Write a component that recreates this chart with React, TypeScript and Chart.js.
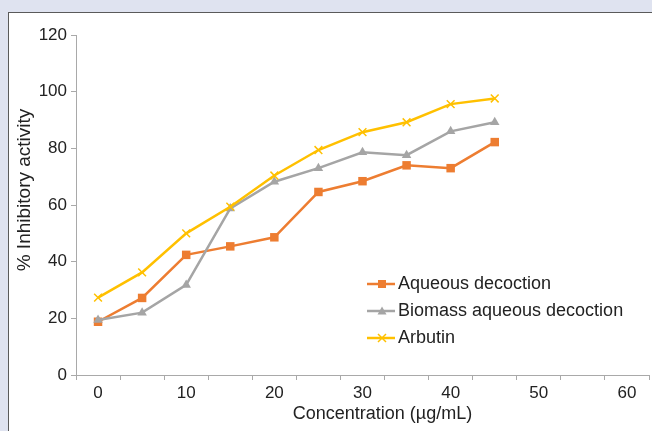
import React, { useEffect, useRef } from 'react';
import { Chart, registerables } from 'chart.js';

Chart.register(...registerables);

// ---- data ----
const categories = ['0', '5', '10', '15', '20', '25', '30', '35', '40', '45', '50', '55', '60'];
const aqueousDecoction = [18.8, 27.2, 42.4, 45.4, 48.6, 64.6, 68.4, 74.0, 73.0, 82.2];
const biomassAqueousDecoction = [19.4, 22.0, 31.8, 58.8, 68.2, 73.0, 78.6, 77.6, 86.0, 89.2];
const arbutin = [27.3, 36.2, 50.0, 59.4, 70.4, 79.4, 85.7, 89.2, 95.6, 97.6];
const seriesNames = ['Aqueous decoction', 'Biomass aqueous decoction', 'Arbutin'];
const seriesColors = ['#ED7D31', '#A5A5A5', '#FFC000'];
const seriesMarkers = ['rect', 'triangle', 'crossRot'];
const xTitle = 'Concentration (µg/mL)';
const yTitle = '% Inhibitory activity';
const yMin = 0;
const yMax = 120;
const yStep = 20;

const FONT = '"Liberation Sans", Arial, sans-serif';
const TEXT = '#222222';
const AXIS = '#A9A9A9';

function makeLegendIcon(color: string, marker: string): HTMLCanvasElement {
  const c = document.createElement('canvas');
  c.width = 32;
  c.height = 12;
  const ctx = c.getContext('2d')!;
  ctx.strokeStyle = color;
  ctx.fillStyle = color;
  ctx.lineWidth = 2.5;
  ctx.beginPath();
  ctx.moveTo(2, 6);
  ctx.lineTo(30, 6);
  ctx.stroke();
  const cx = 17;
  const cy = 6;
  if (marker === 'rect') {
    ctx.fillRect(cx - 4, cy - 4, 8, 8);
  } else if (marker === 'triangle') {
    ctx.beginPath();
    ctx.moveTo(cx, cy - 4.5);
    ctx.lineTo(cx + 4.5, cy + 3.5);
    ctx.lineTo(cx - 4.5, cy + 3.5);
    ctx.closePath();
    ctx.fill();
  } else {
    ctx.lineWidth = 1.5;
    ctx.beginPath();
    ctx.moveTo(cx - 4, cy - 4);
    ctx.lineTo(cx + 4, cy + 4);
    ctx.moveTo(cx + 4, cy - 4);
    ctx.lineTo(cx - 4, cy + 4);
    ctx.stroke();
  }
  return c;
}

export default function App() {
  const ref = useRef<HTMLCanvasElement | null>(null);

  useEffect(() => {
    const canvas = ref.current;
    if (!canvas) return;
    const icons = seriesColors.map((c, i) => makeLegendIcon(c, seriesMarkers[i]));
    const seriesData = [aqueousDecoction, biomassAqueousDecoction, arbutin];

    const placeLegend = {
      id: 'placeLegend',
      afterLayout(chart: any) {
        const lg = chart.legend;
        if (!lg) return;
        lg.left = 364;
        lg.top = 266;
        lg.right = 640;
        lg.bottom = 400;
        lg.width = 276;
        lg.height = 134;
      },
    };

    const titles = {
      id: 'axisTitles',
      afterDraw(chart: any) {
        const { ctx, chartArea } = chart;
        ctx.save();
        ctx.fillStyle = TEXT;
        ctx.textAlign = 'center';
        ctx.textBaseline = 'middle';
        ctx.font = `18px ${FONT}`;
        ctx.fillText(xTitle, (chartArea.left + chartArea.right) / 2 + 20, chartArea.bottom + 39);
        ctx.font = `19px ${FONT}`;
        ctx.translate(25, (chartArea.top + chartArea.bottom) / 2 - 15);
        ctx.rotate(-Math.PI / 2);
        ctx.fillText(yTitle, 0, 0);
        ctx.restore();
      },
    };

    const chart = new Chart(canvas, {
      type: 'line',
      data: {
        labels: categories,
        datasets: seriesData.map((d, i) => ({
          label: seriesNames[i],
          data: d,
          borderColor: seriesColors[i],
          backgroundColor: seriesColors[i],
          borderWidth: 2.5,
          tension: 0,
          fill: false,
          pointStyle: seriesMarkers[i] as any,
          pointRadius: i === 0 ? 6 : 5.5,
          pointBorderWidth: i === 2 ? 1.5 : 0,
          pointBackgroundColor: seriesColors[i],
          pointBorderColor: seriesColors[i],
          order: 3 - i,
        })),
      },
      options: {
        animation: false,
        responsive: false,
        devicePixelRatio: 1,
        layout: { autoPadding: false, padding: { left: 0, top: 35, right: 3, bottom: 0 } },
        plugins: {
          legend: {
            position: 'chartArea' as any,
            align: 'start',
            labels: {
              usePointStyle: true,
              pointStyleWidth: 16,
              padding: 9,
              color: TEXT,
              font: { family: FONT, size: 18 },
              sort: (a: any, b: any) => a.datasetIndex - b.datasetIndex,
              generateLabels: (chart: any) => {
                const items = Chart.defaults.plugins.legend.labels.generateLabels(chart);
                return items.map((it: any) => ({
                  ...it,
                  pointStyle: icons[it.datasetIndex],
                  lineWidth: 0,
                }));
              },
            },
          },
          tooltip: { enabled: false },
        },
        scales: {
          x: {
            type: 'category',
            offset: true,
            grid: {
              offset: true,
              drawOnChartArea: false,
              drawTicks: true,
              tickLength: 5,
              color: AXIS,
            },
            border: { color: AXIS, width: 1 },
            ticks: {
              autoSkip: false,
              maxRotation: 0,
              padding: 3,
              color: TEXT,
              font: { family: FONT, size: 17 },
              callback: (_v: any, i: number) => (i % 2 === 0 ? categories[i] : ''),
            },
            afterFit: (scale: any) => {
              scale.height = 56;
              scale.paddingLeft = 0;
              scale.paddingRight = 0;
            },
          },
          y: {
            min: yMin,
            max: yMax,
            grid: {
              drawOnChartArea: false,
              drawTicks: true,
              tickLength: 5,
              color: AXIS,
            },
            border: { color: AXIS, width: 1 },
            ticks: {
              stepSize: yStep,
              padding: 4,
              color: TEXT,
              font: { family: FONT, size: 17 },
            },
            afterFit: (scale: any) => {
              scale.width = 76;
            },
          },
        },
      },
      plugins: [placeLegend, titles],
    });
    return () => chart.destroy();
  }, []);

  return (
    <div
      style={{
        position: 'fixed',
        left: 0,
        top: 0,
        width: 652,
        height: 431,
        background: '#DFE3F0',
        overflow: 'hidden',
      }}
    >
      <div
        style={{
          position: 'absolute',
          left: 8,
          top: 12,
          width: 660,
          height: 440,
          background: '#FFFFFF',
          border: '1px solid #5A5A5A',
          boxSizing: 'border-box',
        }}
      />
      <canvas
        ref={ref}
        width={652}
        height={431}
        style={{ position: 'absolute', left: 0, top: 0, width: 652, height: 431 }}
      />
    </div>
  );
}
